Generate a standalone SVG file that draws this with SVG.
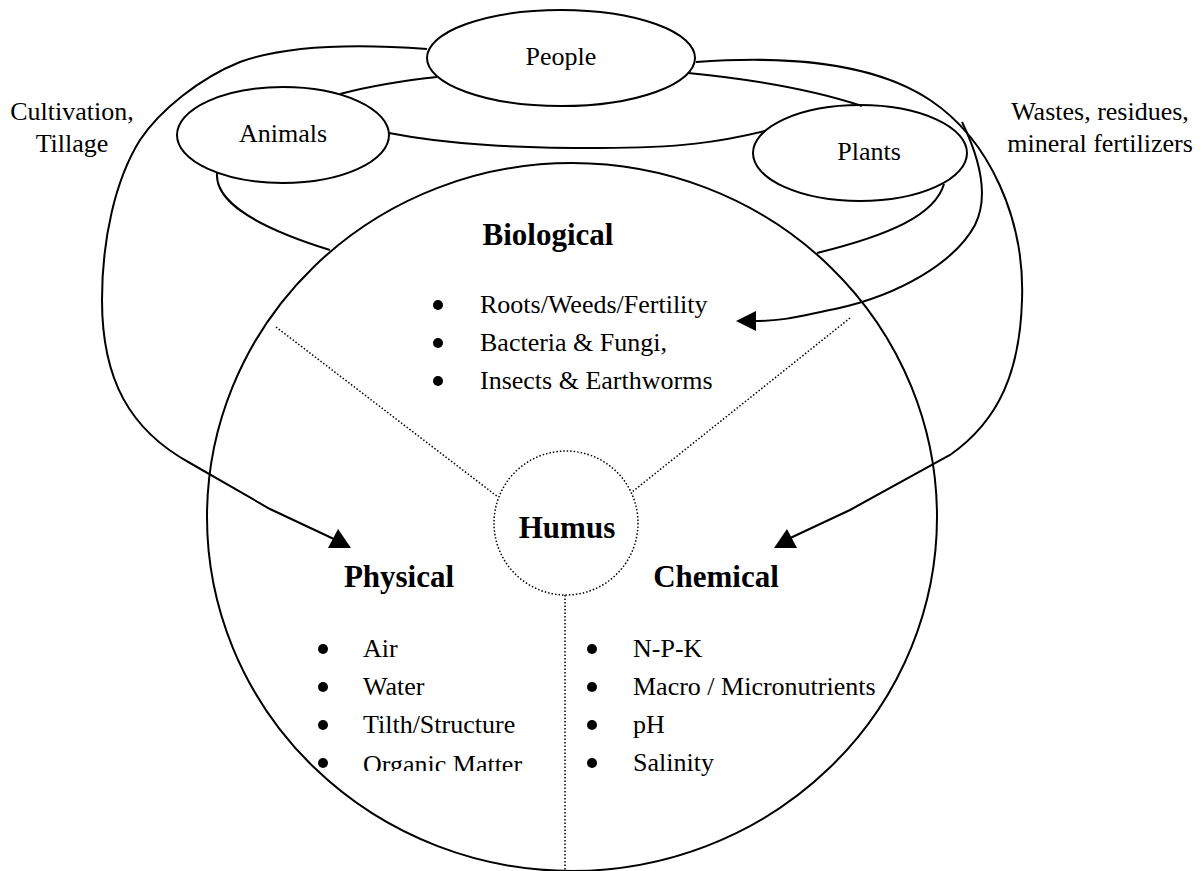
<svg xmlns="http://www.w3.org/2000/svg" width="1204" height="871" viewBox="0 0 1204 871">
  <style>
    .ln { fill: none; stroke: #000; stroke-width: 2; }
    .dot { fill: none; stroke: #000; stroke-width: 1.5; stroke-dasharray: 1.5 2; }
    .ah { fill: #000; stroke: none; }
    .t { font-family: "Liberation Serif", "Times New Roman", serif; font-size: 26px; fill: #000; }
    .tb { font-family: "Liberation Serif", "Times New Roman", serif; font-size: 31px; font-weight: bold; fill: #000; }
    .c { text-anchor: middle; }
    .bul { fill: #000; }
  </style>
  <defs>
    <clipPath id="physClip">
      <rect x="0" y="0" width="1204" height="771"/>
    </clipPath>
  </defs>
  <rect x="0" y="0" width="1204" height="871" fill="#fff"/>

  <g id="soil-circle">
    <ellipse class="ln" cx="572" cy="517" rx="365" ry="354"/>
  </g>

  <g id="dividers">
    <line class="dot" x1="276" y1="327" x2="498" y2="497"/>
    <line class="dot" x1="850" y1="318" x2="632" y2="492"/>
    <line class="dot" x1="565" y1="595" x2="565" y2="871"/>
  </g>

  <g id="connectors">
    <path class="ln" d="M427,49 C360,44 290,44 240,62 C200,78 160,110 140,140 C115,180 102,240 102,300 C102,380 130,430 190,463 L270,509 L336,540"/>
    <polygon class="ah" points="328,548 351,548 338,529"/>
    <path class="ln" d="M340,94 C370,86 400,81 437,77"/>
    <path class="ln" d="M696,62 C780,56 870,60 930,100 C990,140 1025,220 1022,300 C1020,370 1000,420 950,455 L850,510 L786,540"/>
    <polygon class="ah" points="774,548 797,548 787,529"/>
    <path class="ln" d="M962,122 C978,155 990,195 975,225 C955,262 900,295 835,309 C800,316 785,321 755,321"/>
    <polygon class="ah" points="736,321 756,311 756,331"/>
    <path class="ln" d="M688,73 C760,80 820,92 862,106"/>
    <path class="ln" d="M389,133 C450,145 520,148 600,148 C680,148 720,142 765,131"/>
    <path class="ln" d="M217,173 C215,200 250,225 330,250"/>
    <path class="ln" d="M944,184 C935,215 890,235 817,253"/>
  </g>

  <g id="people">
    <ellipse class="ln" cx="561" cy="58" rx="134" ry="48" fill="#fff"/>
    <text class="t c" x="561" y="65">People</text>
  </g>
  <g id="animals">
    <ellipse class="ln" cx="283" cy="135" rx="106" ry="48" fill="#fff"/>
    <text class="t c" x="283" y="142">Animals</text>
  </g>
  <g id="plants">
    <ellipse class="ln" cx="860" cy="153" rx="107" ry="48" fill="#fff"/>
    <text class="t c" x="869" y="160">Plants</text>
  </g>

  <g id="label-cultivation">
    <text class="t c" x="72" y="120">Cultivation,</text>
    <text class="t c" x="72" y="152">Tillage</text>
  </g>
  <g id="label-wastes">
    <text class="t c" x="1100" y="120">Wastes, residues,</text>
    <text class="t c" x="1100" y="152">mineral fertilizers</text>
  </g>

  <g id="biological">
    <text class="tb c" x="548" y="245">Biological</text>
    <circle class="bul" cx="438" cy="305" r="5"/>
    <circle class="bul" cx="438" cy="343" r="5"/>
    <circle class="bul" cx="438" cy="381" r="5"/>
    <text class="t" x="480" y="313">Roots/Weeds/Fertility</text>
    <text class="t" x="480" y="351">Bacteria &amp; Fungi,</text>
    <text class="t" x="480" y="389">Insects &amp; Earthworms</text>
  </g>

  <g id="humus">
    <circle class="dot" cx="566" cy="523" r="72"/>
    <text class="tb c" x="567" y="538">Humus</text>
  </g>

  <g id="physical">
    <text class="tb c" x="399" y="587">Physical</text>
    <circle class="bul" cx="323" cy="649" r="5"/>
    <circle class="bul" cx="323" cy="687" r="5"/>
    <circle class="bul" cx="323" cy="725" r="5"/>
    <circle class="bul" cx="323" cy="763" r="5"/>
    <text class="t" x="363" y="657">Air</text>
    <text class="t" x="363" y="695">Water</text>
    <text class="t" x="363" y="733">Tilth/Structure</text>
    <text class="t" x="363" y="773" clip-path="url(#physClip)">Organic Matter</text>
  </g>

  <g id="chemical">
    <text class="tb c" x="716" y="587">Chemical</text>
    <circle class="bul" cx="592" cy="649" r="5"/>
    <circle class="bul" cx="592" cy="687" r="5"/>
    <circle class="bul" cx="592" cy="725" r="5"/>
    <circle class="bul" cx="592" cy="763" r="5"/>
    <text class="t" x="633" y="657">N-P-K</text>
    <text class="t" x="633" y="695">Macro / Micronutrients</text>
    <text class="t" x="633" y="733">pH</text>
    <text class="t" x="633" y="771">Salinity</text>
  </g>
</svg>
